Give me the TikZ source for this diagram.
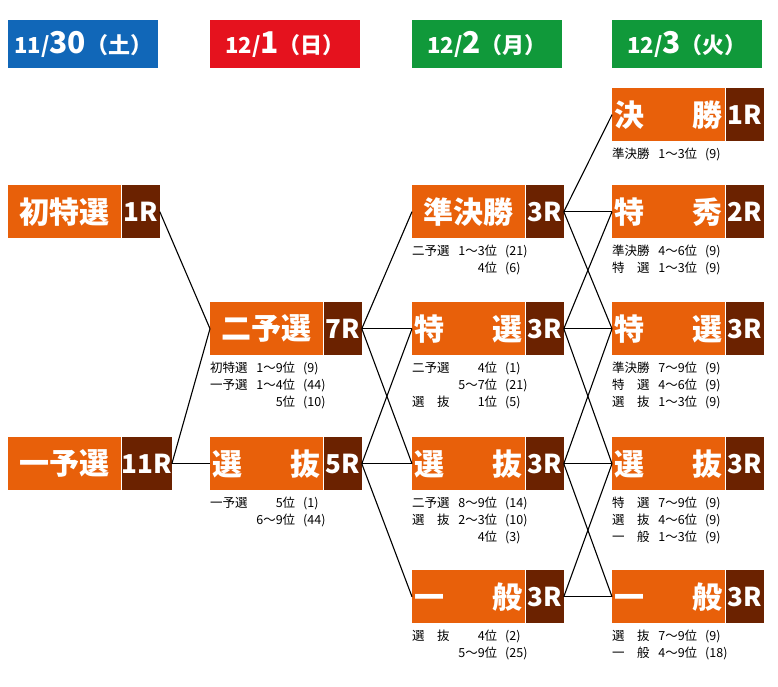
\documentclass[tikz,border=0pt]{standalone}
\usepackage{fontspec}
\setmainfont{Noto Sans CJK JP}
\usetikzlibrary{positioning}
\definecolor{racebg}{HTML}{E8600A}
\definecolor{racenum}{HTML}{6B2200}
\definecolor{dayblue}{HTML}{1167B8}
\definecolor{dayred}{HTML}{E5121E}
\definecolor{daygreen}{HTML}{10993A}
\tikzset{
  dayhead/.style={minimum width=150pt, minimum height=48pt, inner sep=0pt, text=white, font=\bfseries\fontsize{22}{22}\selectfont, anchor=north west},
  racebox/.style={fill=racebg, text=white, minimum width=113pt, minimum height=53pt, inner sep=0pt, font=\bfseries\fontsize{30}{30}\selectfont, anchor=north west},
  racecnt/.style={fill=racenum, text=white, minimum width=38pt, minimum height=53pt, inner sep=0pt, font=\bfseries\fontsize{26}{26}\selectfont, right=0pt of #1},
  note/.style={align=left, anchor=north west, inner sep=0pt, font=\fontsize{12.5}{17}\selectfont},
  link/.style={line width=1.1pt}
}
\newcommand{\qline}[3]{\makebox[52pt][l]{#1}\makebox[33pt][r]{#2}\hspace{8pt}(#3)}
\begin{document}
\begin{tikzpicture}[x=1pt,y=-1pt]
\useasboundingbox (0,0) rectangle (778,686);
% days
\node[dayhead, fill=dayblue] (day0) at (8,20) {11/{\fontsize{30}{30}\selectfont 30}（土）};
\node[dayhead, fill=dayred] (day1) at (210,20) {12/{\fontsize{30}{30}\selectfont 1}（日）};
\node[dayhead, fill=daygreen] (day2) at (412,20) {12/{\fontsize{30}{30}\selectfont 2}（月）};
\node[dayhead, fill=daygreen] (day3) at (612,20) {12/{\fontsize{30}{30}\selectfont 3}（火）};
% 11/30
\node[racebox] (hatsu) at (8,185) {初特選};
\node[racecnt=hatsu] (hatsuR) {1R};
\node[racebox] (ichi) at (8,437) {一予選};
\node[racecnt=ichi] (ichiR) {11R};
% 12/1
\node[racebox] (ni) at (210,302) {二予選};
\node[racecnt=ni] (niR) {7R};
\node[note] (niN) at (210,362) {\qline{初特選}{1～9位}{9}\\\qline{一予選}{1～4位}{44}\\\qline{}{5位}{10}};
\node[racebox] (senb) at (210,437) {選\hspace{1.6em}抜};
\node[racecnt=senb] (senbR) {5R};
\node[note] (senbN) at (210,497) {\qline{一予選}{5位}{1}\\\qline{}{6～9位}{44}};
% 12/2
\node[racebox] (jun) at (412,185) {準決勝};
\node[racecnt=jun] (junR) {3R};
\node[note] (junN) at (412,245) {\qline{二予選}{1～3位}{21}\\\qline{}{4位}{6}};
\node[racebox] (toku) at (412,302) {特\hspace{1.6em}選};
\node[racecnt=toku] (tokuR) {3R};
\node[note] (tokuN) at (412,362) {\qline{二予選}{4位}{1}\\\qline{}{5～7位}{21}\\\qline{選\hspace{1em}抜}{1位}{5}};
\node[racebox] (sen) at (412,437) {選\hspace{1.6em}抜};
\node[racecnt=sen] (senR) {3R};
\node[note] (senN) at (412,497) {\qline{二予選}{8～9位}{14}\\\qline{選\hspace{1em}抜}{2～3位}{10}\\\qline{}{4位}{3}};
\node[racebox] (ipp) at (412,570) {一\hspace{1.6em}般};
\node[racecnt=ipp] (ippR) {3R};
\node[note] (ippN) at (412,630) {\qline{選\hspace{1em}抜}{4位}{2}\\\qline{}{5～9位}{25}};
% 12/3
\node[racebox] (fin) at (612,88) {決\hspace{1.6em}勝};
\node[racecnt=fin] (finR) {1R};
\node[note] (finN) at (612,148) {\qline{準決勝}{1～3位}{9}};
\node[racebox] (shu) at (612,185) {特\hspace{1.6em}秀};
\node[racecnt=shu] (shuR) {2R};
\node[note] (shuN) at (612,245) {\qline{準決勝}{4～6位}{9}\\\qline{特\hspace{1em}選}{1～3位}{9}};
\node[racebox] (tok3) at (612,302) {特\hspace{1.6em}選};
\node[racecnt=tok3] (tok3R) {3R};
\node[note] (tok3N) at (612,362) {\qline{準決勝}{7～9位}{9}\\\qline{特\hspace{1em}選}{4～6位}{9}\\\qline{選\hspace{1em}抜}{1～3位}{9}};
\node[racebox] (sen3) at (612,437) {選\hspace{1.6em}抜};
\node[racecnt=sen3] (sen3R) {3R};
\node[note] (sen3N) at (612,497) {\qline{特\hspace{1em}選}{7～9位}{9}\\\qline{選\hspace{1em}抜}{4～6位}{9}\\\qline{一\hspace{1em}般}{1～3位}{9}};
\node[racebox] (ipp3) at (612,570) {一\hspace{1.6em}般};
\node[racecnt=ipp3] (ipp3R) {3R};
\node[note] (ipp3N) at (612,630) {\qline{選\hspace{1em}抜}{7～9位}{9}\\\qline{一\hspace{1em}般}{4～9位}{18}};
% links
\draw[link] (hatsuR.east) -- (ni.west);
\draw[link] (ichiR.east) -- (ni.west);
\draw[link] (ichiR.east) -- (senb.west);
\draw[link] (niR.east) -- (jun.west);
\draw[link] (niR.east) -- (toku.west);
\draw[link] (niR.east) -- (sen.west);
\draw[link] (senbR.east) -- (toku.west);
\draw[link] (senbR.east) -- (sen.west);
\draw[link] (senbR.east) -- (ipp.west);
\draw[link] (junR.east) -- (fin.west);
\draw[link] (junR.east) -- (shu.west);
\draw[link] (junR.east) -- (tok3.west);
\draw[link] (tokuR.east) -- (shu.west);
\draw[link] (tokuR.east) -- (tok3.west);
\draw[link] (tokuR.east) -- (sen3.west);
\draw[link] (senR.east) -- (tok3.west);
\draw[link] (senR.east) -- (sen3.west);
\draw[link] (senR.east) -- (ipp3.west);
\draw[link] (ippR.east) -- (sen3.west);
\draw[link] (ippR.east) -- (ipp3.west);
\end{tikzpicture}
\end{document}
